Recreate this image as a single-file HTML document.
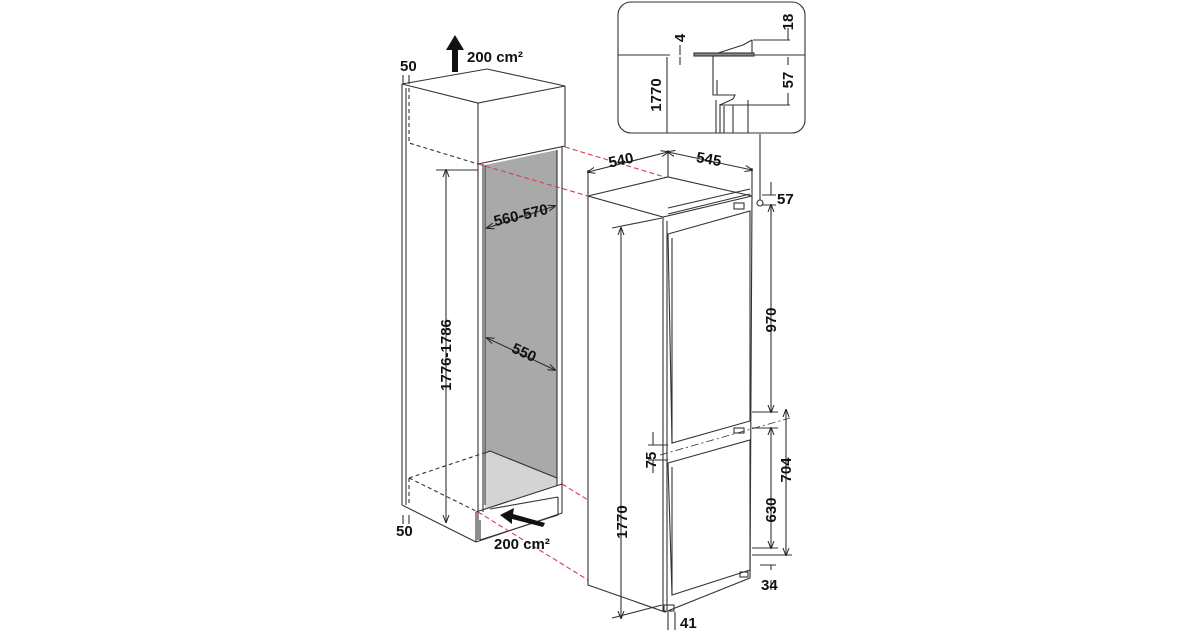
<!DOCTYPE html>
<html><head><meta charset="utf-8"><style>
html,body{margin:0;padding:0;background:#fff;}
svg{display:block;}
text{font-family:"Liberation Sans",sans-serif;font-weight:bold;font-size:15px;fill:#111;}
</style></head><body>
<svg width="1200" height="630" viewBox="0 0 1200 630" xmlns="http://www.w3.org/2000/svg">
<defs>
<marker id="a" markerWidth="8" markerHeight="8" refX="7" refY="4" orient="auto-start-reverse" markerUnits="userSpaceOnUse"><path d="M0,1 L8,4 L0,7" fill="none" stroke="#222" stroke-width="1"/></marker>
</defs>
<g fill="none" stroke="#333" stroke-width="1.1">
<!-- CABINET -->
<polygon points="485,165 557,150 557,478 490,451 485,452" fill="#a9a9a9" stroke="none"/>
<polygon points="485,453 490,451 557,478 557,486 485,509" fill="#d4d4d4" stroke="none"/>
<path d="M402,84 L487,69 L565,86 L478,103 Z"/>
<path d="M478,103 L478,164 L565,146 L565,86"/>
<path d="M402,84 L402,505 M406,88 L406,505"/>
<path d="M478,164 L478,540 M483,164 L483,512 M485,165 L485,505"/>
<path d="M557,150 L557,485 M562,146 L562,484"/>
<path d="M490,451 L557,478 M490,451 L485,453"/>
<path d="M476,512 L562,484 M476,542 L562,513 L562,484 M402,505 L476,542 M476,542 L476,512"/>
<path d="M480,520 L480,540 L558,515 L558,497 M490,509 L558,497"/>
<path d="M409,88 L409,143 L478,164 M409,478 L409,505 M409,478 L490,451 M409,478 L478,512" stroke-dasharray="4,3"/>
<!-- dims cabinet -->
<path d="M446,170 L446,522" marker-start="url(#a)" marker-end="url(#a)"/>
<path d="M436,170 L478,170"/>
<path d="M487,228 L555,206" marker-start="url(#a)" marker-end="url(#a)"/>
<path d="M487,338 L555,370" marker-start="url(#a)" marker-end="url(#a)"/>
<path d="M403,75 L403,84 M409,75 L409,84 M403,515 L403,524 M409,515 L409,524"/>
<!-- red dashed -->
<g stroke="#d44050" stroke-dasharray="5,3">
<path d="M565,147 L668,178"/><path d="M478,164 L588,196"/>
<path d="M562,484 L588,500"/><path d="M478,512 L588,580"/>
</g>
<!-- FRIDGE -->
<path d="M588,196 L668,177 L752,196 L663,217 Z" fill="#fff"/>
<path d="M588,196 L588,585 L665,612 L750,578 L752,196"/>
<path d="M663,217 L663,612 M667,221 L667,610"/>
<path d="M668,208 L750,189 M668,214 L750,194"/>
<path d="M668,234 L750,211 L750,421 L672,443 Z"/>
<path d="M672,238 L672,443"/>
<path d="M668,463 L750,440 L750,570 L672,595 Z"/>
<path d="M672,467 L672,595"/>
<rect x="734" y="203" width="10" height="6"/><rect x="734" y="428" width="10" height="5"/>
<rect x="664" y="605" width="10" height="6"/><rect x="740" y="572" width="8" height="5"/>
<path d="M660,455 L790,418" stroke-dasharray="8,3,2,3" stroke-width="0.8"/>
<!-- fridge dims -->
<path d="M588,170 L588,195 M668,150 L668,177 M752,168 L752,196"/>
<path d="M588,172 L668,152" marker-start="url(#a)" marker-end="url(#a)"/>
<path d="M668,152 L752,170" marker-start="url(#a)" marker-end="url(#a)"/>
<path d="M621,228 L621,618" marker-start="url(#a)" marker-end="url(#a)"/>
<path d="M612,228 L662,218 M612,618 L662,605"/>
<path d="M771,205 L771,412" marker-start="url(#a)" marker-end="url(#a)"/>
<path d="M771,428 L771,548" marker-start="url(#a)" marker-end="url(#a)"/>
<path d="M786,410 L786,555" marker-start="url(#a)" marker-end="url(#a)"/>
<path d="M752,555 L792,555 M752,548 L778,548 M752,428 L778,428 M752,412 L778,412"/>
<path d="M771,182 L771,195 M771,215 L771,206" />
<path d="M762,195 L776,195 M762,205 L776,205"/>
<path d="M771,570 L771,565 M760,565 L776,565 M771,590 L771,580"/>
<path d="M653,432 L653,445 M653,473 L653,460 M648,445 L668,445 M648,460 L668,460"/>
<path d="M668,612 L668,630 M675,612 L675,630"/>
<circle cx="760" cy="203" r="3" fill="#fff"/>
<path d="M760,200 L760,134"/>
<!-- INSET -->
<rect x="618" y="2" width="187" height="131" rx="13"/>
<path d="M618,55 L670,55 M695,55 L805,55 M753,40 L790,40 M753,55 L790,55 M720,105 L790,105"/>
<path d="M695,54 L752,54 L752,40 M715,54 L743,45 L752,40" />
<rect x="694" y="53" width="60" height="3" fill="#888"/>
<path d="M713,56 L713,95 L717,95 L717,80 M713,95 L735,95 L733,99 L720,105"/>
<path d="M716,100 L716,133 M720,104 L720,133 M724,106 L724,133 M733,105 L733,133 M748,100 L748,133"/>
<path d="M680,45 L680,55 M680,57 L680,65 M667,57 L667,133 M788,28 L788,40 M788,57 L788,65 M788,93 L788,105"/>
</g>
<path d="M452,72 L452,50 L446,50 L455,35 L464,50 L458,50 L458,72 Z" fill="#111"/>
<path d="M545,523 L513,514 L514,508 L500,515 L512,524 L512,519 L543,527 Z" fill="#111"/>
<text x="467" y="62">200 cm²</text>
<text x="400" y="71">50</text>
<text x="396" y="536">50</text>
<text x="494" y="549">200 cm²</text>
<text transform="translate(451,355) rotate(-90)" text-anchor="middle">1776-1786</text>
<text transform="translate(522,220) rotate(-13)" text-anchor="middle">560-570</text>
<text transform="translate(522,357) rotate(25)" text-anchor="middle">550</text>
<text transform="translate(622,165) rotate(-12)" text-anchor="middle">540</text>
<text transform="translate(708,164) rotate(10)" text-anchor="middle">545</text>
<text x="777" y="204">57</text>
<text transform="translate(776,320) rotate(-90)" text-anchor="middle">970</text>
<text transform="translate(791,470) rotate(-90)" text-anchor="middle">704</text>
<text transform="translate(776,510) rotate(-90)" text-anchor="middle">630</text>
<text transform="translate(627,522) rotate(-90)" text-anchor="middle">1770</text>
<text transform="translate(656,460) rotate(-90)" text-anchor="middle">75</text>
<text x="761" y="590">34</text>
<text x="680" y="628">41</text>
<text transform="translate(685,38) rotate(-90)" text-anchor="middle" font-size="13">4</text>
<text transform="translate(661,95) rotate(-90)" text-anchor="middle">1770</text>
<text transform="translate(793,22) rotate(-90)" text-anchor="middle">18</text>
<text transform="translate(793,80) rotate(-90)" text-anchor="middle">57</text>
</svg>
</body></html>
